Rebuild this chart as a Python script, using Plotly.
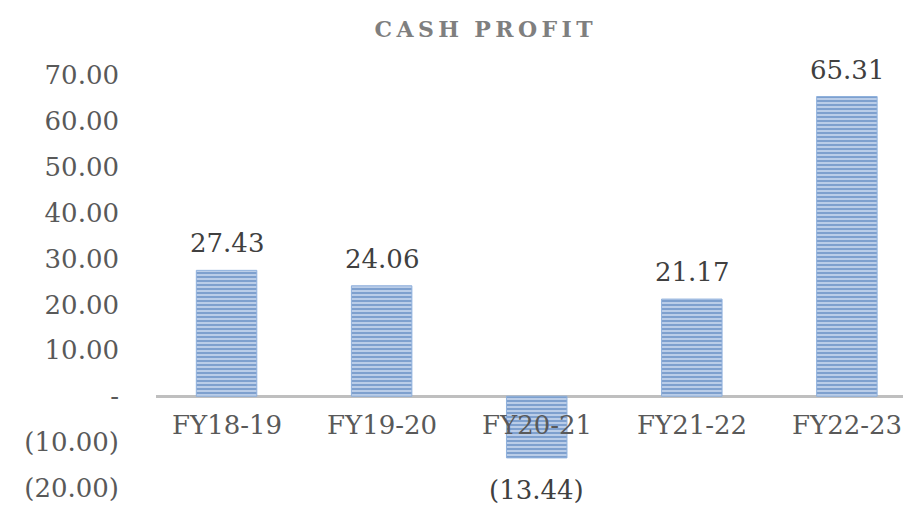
import plotly.graph_objects as go

categories = ["FY18-19", "FY19-20", "FY20-21", "FY21-22", "FY22-23"]
cash_profit = [27.43, 24.06, -13.44, 21.17, 65.31]
bar_labels = ["27.43", "24.06", "(13.44)", "21.17", "65.31"]
tick_vals = [70, 60, 50, 40, 30, 20, 10, 0, -10, -20]
tick_text = ["70.00", "60.00", "50.00", "40.00", "30.00", "20.00", "10.00", "-", "(10.00)", "(20.00)"]

font_family = "DejaVu Serif"

fig = go.Figure()

fig.add_trace(go.Bar(
    x=categories,
    y=cash_profit,
    width=0.39,
    marker=dict(
        color="#4f81bd",
        line=dict(color="#8fb0dc", width=1),
        pattern=dict(shape="-", bgcolor="#c8d8ee", fgcolor="#3468ae",
                     size=4, solidity=0.6, fillmode="overlay"),
    ),
    hoverinfo="skip",
))

# value labels above / below the bars
for cat, val, lab in zip(categories, cash_profit, bar_labels):
    fig.add_annotation(x=cat, y=val, showarrow=False, text=lab,
                       yanchor="bottom" if val >= 0 else "top",
                       yshift=10 if val >= 0 else -15,
                       font=dict(family=font_family, size=26, color="#404040"))

# category labels sit just under the zero line, like in the original
for cat in categories:
    fig.add_annotation(x=cat, y=0, yanchor="top", yshift=-12, showarrow=False,
                       text=cat, font=dict(family=font_family, size=26, color="#595959"))

fig.update_layout(
    width=911, height=508,
    template="plotly_white",
    paper_bgcolor="white", plot_bgcolor="white",
    showlegend=False,
    margin=dict(l=148, r=0, t=67, b=28),
    title=dict(text="C\u2009A\u2009S\u2009H  P\u2009R\u2009O\u2009F\u2009I\u2009T",
               x=0.522, xanchor="center", y=0.958, yanchor="middle",
               font=dict(family=font_family, size=22, color="#7f7f7f", weight="bold")),
)

fig.update_xaxes(range=[-0.455, 4.465], showticklabels=False, showgrid=False,
                 zeroline=False, showline=False, ticks="")
fig.update_yaxes(range=[-20, 70], tickvals=tick_vals, ticktext=tick_text,
                 showgrid=False, zeroline=True, zerolinecolor="#bfbfbf", zerolinewidth=3,
                 showline=False, ticks="", ticklabelstandoff=36,
                 tickfont=dict(family=font_family, size=26, color="#595959"))

fig.write_html("out.html")
